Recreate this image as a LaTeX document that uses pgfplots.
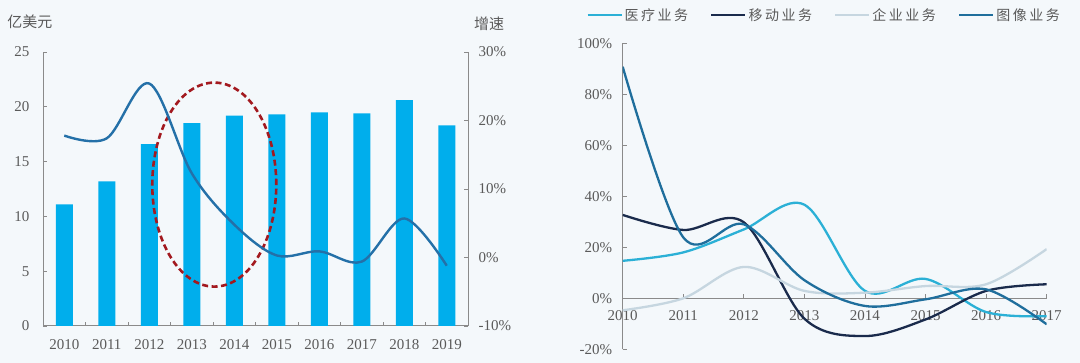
\documentclass[border=0pt]{standalone}
\usepackage{pgfplots}
\pgfplotsset{compat=1.18}
\usepackage{pgfplotstable}
\usepackage{fontspec}
\setmainfont{Liberation Serif}
\newfontfamily\cjk{Noto Sans CJK SC}
\newfontfamily\cjkls[LetterSpace=18]{Noto Sans CJK SC}
\definecolor{bg}{HTML}{F4F8FB}
\definecolor{axgray}{HTML}{8A8A8A}
\definecolor{txtgray}{HTML}{5A5A5A}
\definecolor{barblue}{HTML}{00AEEC}
\definecolor{growline}{HTML}{2470A8}
\definecolor{ellred}{HTML}{A3191F}
\definecolor{medc}{HTML}{2BB0D6}
\definecolor{mobc}{HTML}{1A2B4C}
\definecolor{entc}{HTML}{C6D6E0}
\definecolor{imgc}{HTML}{1F6E9C}

\pgfplotstableread{
x v
0 11.1
1 13.2
2 16.6
3 18.5
4 19.2
5 19.3
6 19.5
7 19.4
8 20.6
9 18.3
}\revenue
\pgfplotstableread{
x g
0 17.8
1 17.4
2 25.4
3 12.3
4 4.8
5 0.3
6 0.9
7 -0.6
8 5.7
9 -1.2
}\growth
\pgfplotstableread{
x med mob ent img
2010 14.7 32.7 -4.7 90.8
2011 18.0 26.8 0.0 23.9
2012 27.0 29.8 12.3 29.0
2013 36.7 -8.0 2.9 7.1
2014 2.9 -14.8 2.2 -3.0
2015 7.6 -8.3 4.8 -0.4
2016 -5.4 2.9 5.5 3.5
2017 -7.0 5.5 19.3 -10.2
}\segments

\pgfplotsset{
  common/.style={
    scale only axis,
    anchor=south west,
    axis line style={draw=axgray, line width=1pt},
    tick style={draw=axgray, line width=0.9pt},
    major tick length=4pt,
    tick label style={font=\fontsize{15}{17}\selectfont, text=txtgray},
    /pgf/number format/assume math mode=true,
  }
}

\begin{document}
\begin{tikzpicture}[x=1pt,y=1pt]
\fill[bg] (0,0) rectangle (1080,363);
\useasboundingbox (0,0) rectangle (1080,363);

% ---- left chart: revenue bars
\begin{axis}[common,
  at={(43pt,37pt)}, width=425pt, height=274pt,
  xmin=-0.5, xmax=9.5, ymin=0, ymax=25,
  axis x line*=bottom, axis y line*=left,
  xtick={-0.5,0.5,...,9.5}, xticklabels={},
  extra x ticks={0,1,...,9},
  extra x tick labels={2010,2011,2012,2013,2014,2015,2016,2017,2018,2019},
  extra x tick style={major tick length=0pt, tick label style={yshift=-10pt}},
  ytick={0,5,...,25},
  yticklabel style={xshift=-10pt},
]
\addplot[ybar, bar width=17pt, fill=barblue, draw=none] table[x=x, y=v] {\revenue};
\draw[ellred, line width=2.6pt, dash pattern=on 6pt off 3.5pt] (axis cs:3.53,12.9) ellipse [x radius=62pt, y radius=102pt];
\end{axis}

% ---- left chart: growth line
\begin{axis}[common,
  at={(43pt,37pt)}, width=425pt, height=274pt,
  xmin=-0.5, xmax=9.5, ymin=-10, ymax=30,
  axis x line=none, axis y line*=right,
  ytick={-10,0,10,20,30},
  yticklabel={\pgfmathprintnumber{\tick}\%},
  yticklabel style={xshift=7pt},
]
\addplot[growline, line width=2.4pt, smooth, tension=0.55] table[x=x, y=g] {\growth};
\end{axis}

\node[font=\cjk\fontsize{15}{17}\selectfont, text=txtgray] at (30,341) {亿美元};
\node[font=\cjk\fontsize{15}{17}\selectfont, text=txtgray] at (489,339) {增速};

% ---- right chart
\begin{axis}[common,
  at={(622.7pt,13.7pt)}, width=424pt, height=306pt,
  xmin=2010, xmax=2017, ymin=-20, ymax=100,
  axis x line*=middle, axis y line*=left,
  xtick={2011,...,2017},
  extra x ticks={2010}, extra x tick labels={2010},
  xticklabel style={/pgf/number format/1000 sep={}, yshift=-9pt},
  ytick={-20,0,...,100},
  yticklabel={\pgfmathprintnumber{\tick}\%},
  yticklabel style={xshift=-7pt},
  legend columns=4,
  legend style={at={(0.475,1.092)}, anchor=center, draw=none, fill=none,
    font=\cjkls\fontsize{14}{16}\selectfont, text=txtgray,
    /tikz/every even column/.append style={column sep=20pt}},
  legend image code/.code={\draw[#1] (0pt,0pt) -- (34pt,0pt);},
]
\addplot[medc, line width=2.3pt, smooth, tension=0.55] table[x=x, y=med] {\segments};
\addlegendentry{医疗业务}
\addplot[mobc, line width=2.3pt, smooth, tension=0.55] table[x=x, y=mob] {\segments};
\addlegendentry{移动业务}
\addplot[entc, line width=2.3pt, smooth, tension=0.55] table[x=x, y=ent] {\segments};
\addlegendentry{企业业务}
\addplot[imgc, line width=2.3pt, smooth, tension=0.55] table[x=x, y=img] {\segments};
\addlegendentry{图像业务}
\end{axis}
\end{tikzpicture}
\end{document}
